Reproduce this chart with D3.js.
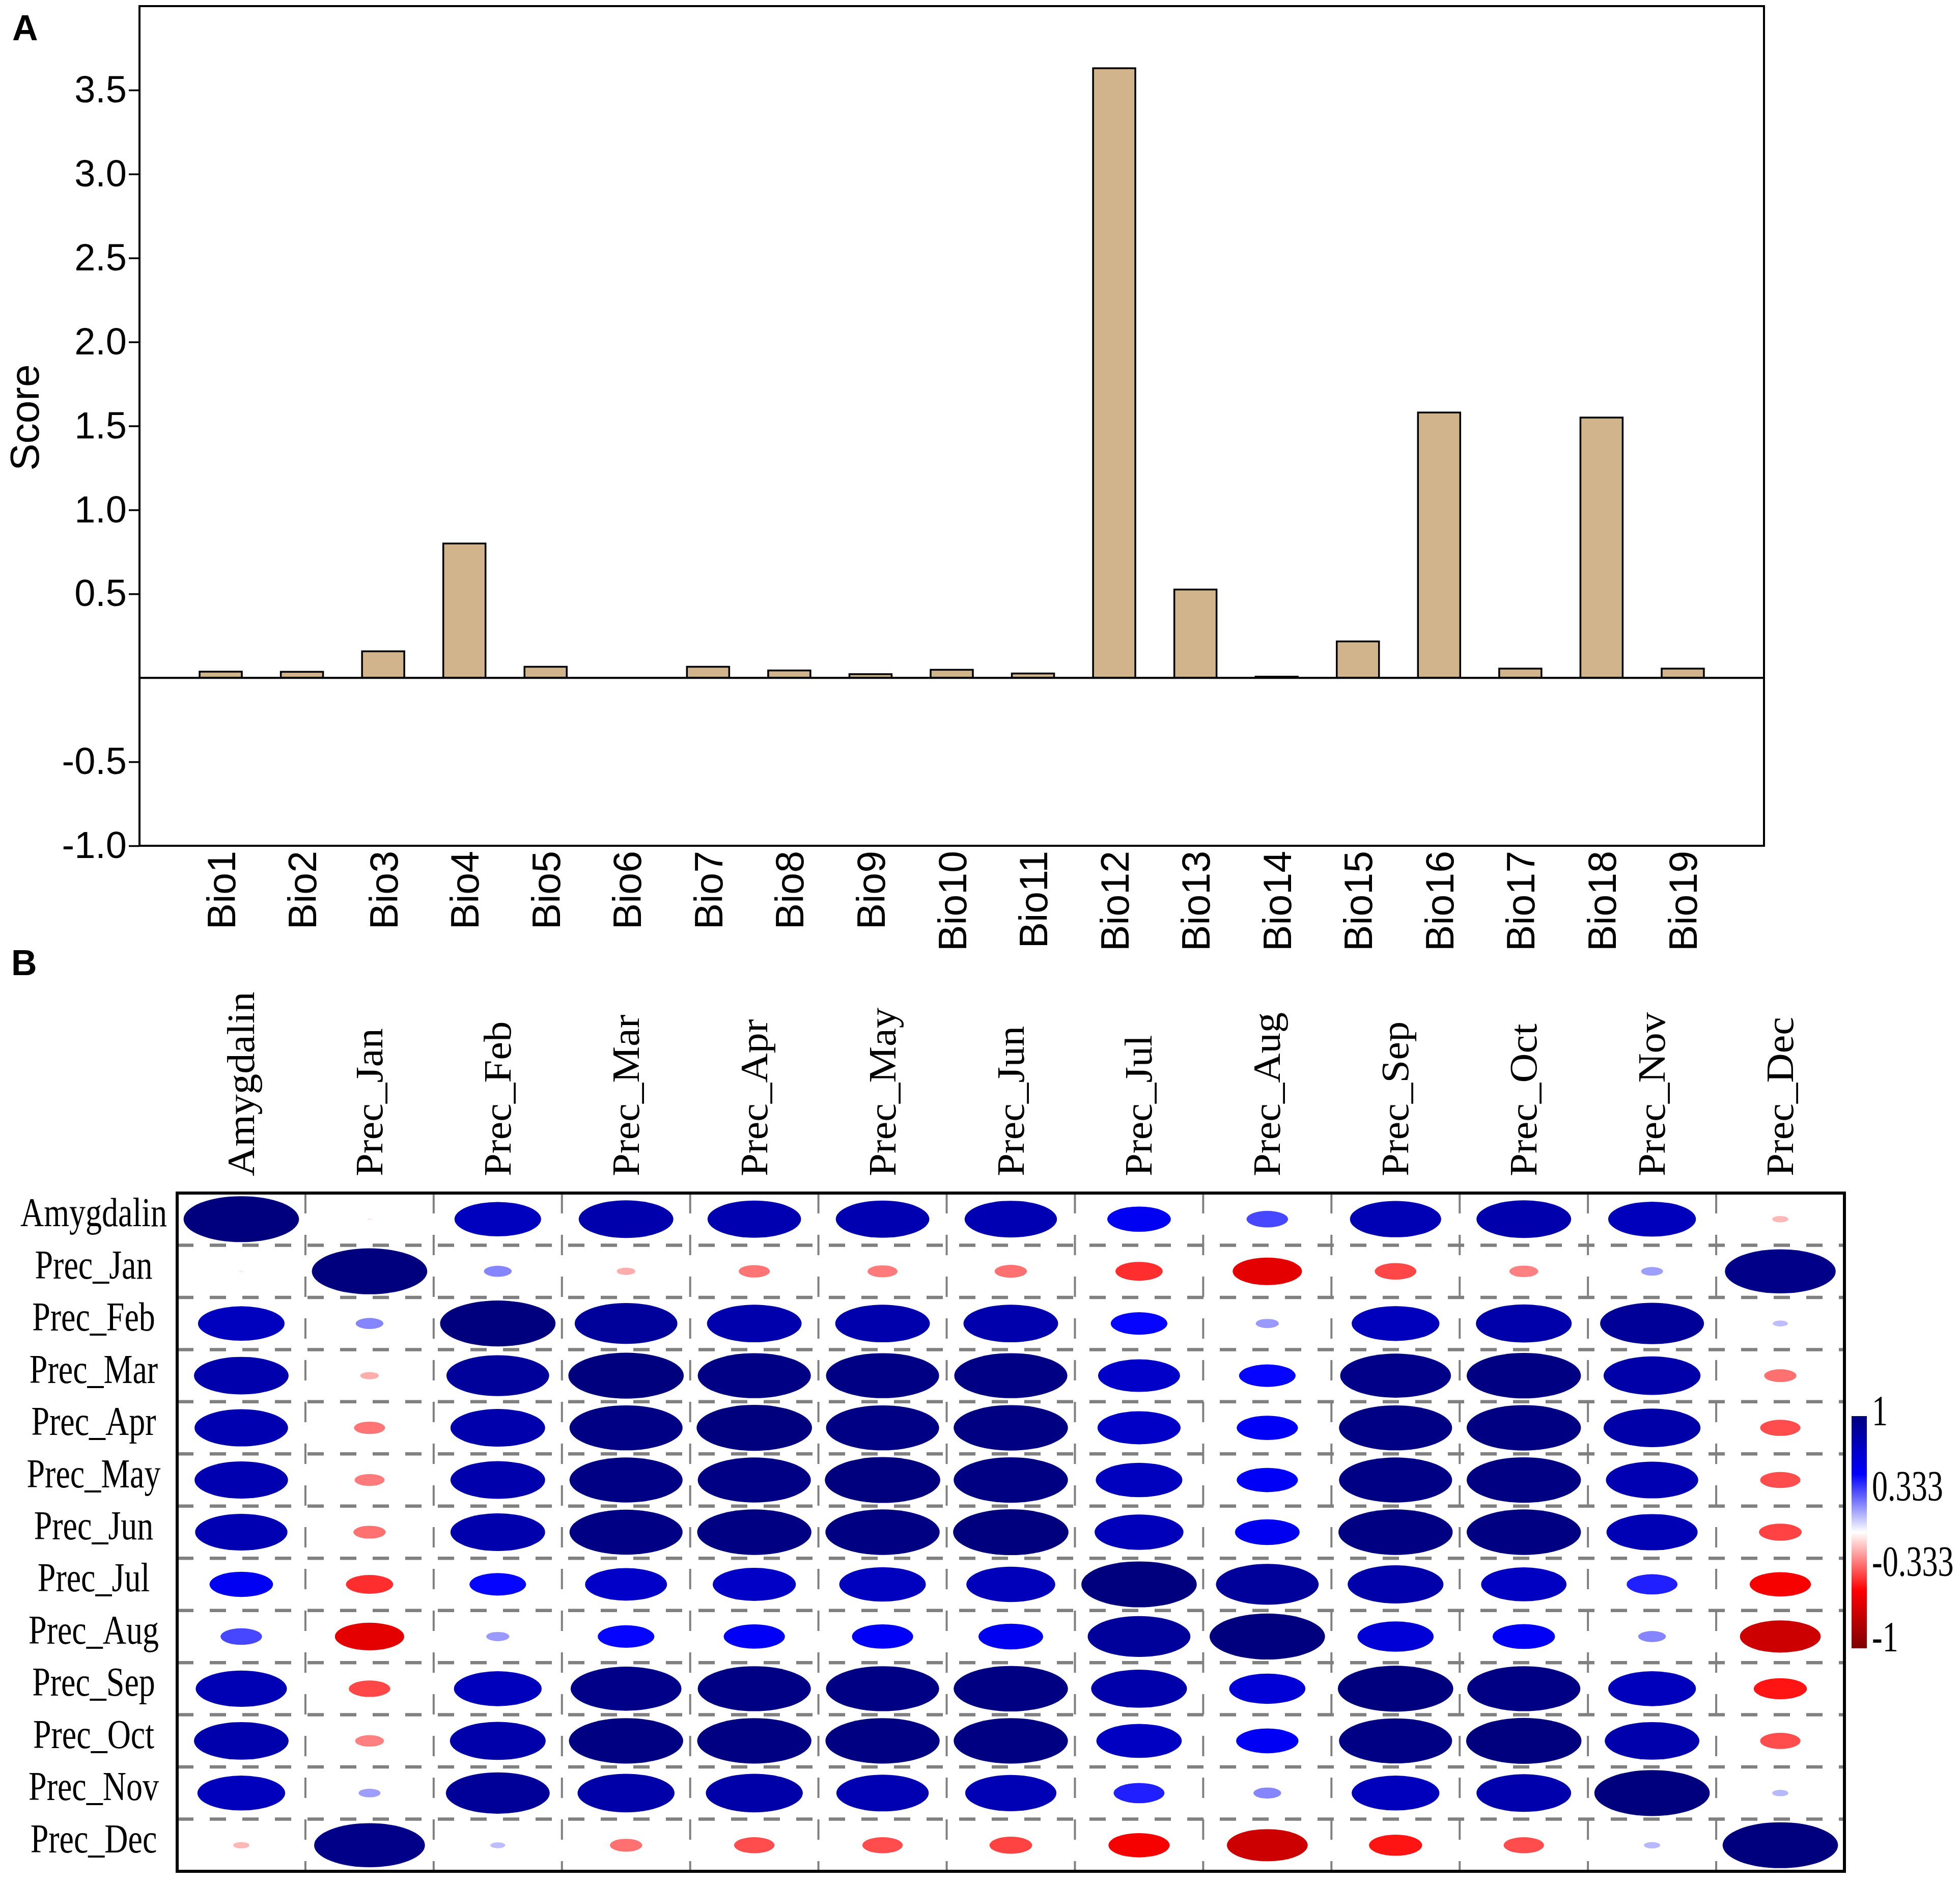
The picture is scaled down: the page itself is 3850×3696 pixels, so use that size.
<!DOCTYPE html>
<html lang="en">
<head>
  <meta charset="UTF-8" />
  <title>Bio scores and precipitation correlation</title>
  <script src="https://d3js.org/d3.v7.min.js"></script>
  <style>
    body { margin:0; padding:0; background:#fff; }
    svg { display:block; background:#fff; }
    .sans { font-family:"Liberation Sans", Arial, sans-serif; }
    .serif { font-family:"Liberation Serif", "Times New Roman", serif; }
  </style>
</head>
<body>
  <svg id="chart" width="3850" height="3696"></svg>

  <script>
  // ---- panel A data ----
  const bioLabels = ["Bio1","Bio2","Bio3","Bio4","Bio5","Bio6","Bio7","Bio8","Bio9","Bio10",
                     "Bio11","Bio12","Bio13","Bio14","Bio15","Bio16","Bio17","Bio18","Bio19"];
  const bioScores = [0.037, 0.036, 0.158, 0.80, 0.066, 0.0, 0.066, 0.044, 0.022, 0.048,
                     0.026, 3.63, 0.526, 0.007, 0.217, 1.58, 0.055, 1.55, 0.055];
  const scoreTicks = [-1.0, -0.5, 0.5, 1.0, 1.5, 2.0, 2.5, 3.0, 3.5];

  // ---- panel B data ----
  const varNames = ["Amygdalin","Prec_Jan","Prec_Feb","Prec_Mar","Prec_Apr","Prec_May","Prec_Jun",
                    "Prec_Jul","Prec_Aug","Prec_Sep","Prec_Oct","Prec_Nov","Prec_Dec"];
  const corrRows = [
    [ 1.00, -0.04,  0.75,  0.82,  0.81,  0.81,  0.80,  0.55,  0.36,  0.79,  0.82,  0.76, -0.14],
    [-0.04,  1.00,  0.24, -0.16, -0.27, -0.26, -0.28, -0.41, -0.60, -0.36, -0.25,  0.19,  0.96],
    [ 0.75,  0.24,  1.00,  0.89,  0.82,  0.82,  0.82,  0.49,  0.20,  0.76,  0.83,  0.90,  0.13],
    [ 0.82, -0.16,  0.89,  1.00,  0.98,  0.98,  0.98,  0.71,  0.49,  0.96,  0.99,  0.84, -0.28],
    [ 0.81, -0.27,  0.82,  0.98,  1.00,  0.98,  0.99,  0.72,  0.53,  0.98,  0.99,  0.84, -0.35],
    [ 0.81, -0.26,  0.82,  0.98,  0.98,  1.00,  0.99,  0.75,  0.53,  0.98,  0.99,  0.80, -0.35],
    [ 0.80, -0.28,  0.82,  0.98,  0.99,  0.99,  1.00,  0.77,  0.56,  0.99,  0.99,  0.79, -0.37],
    [ 0.55, -0.41,  0.49,  0.71,  0.72,  0.75,  0.77,  1.00,  0.89,  0.83,  0.74,  0.44, -0.53],
    [ 0.36, -0.60,  0.20,  0.49,  0.53,  0.53,  0.56,  0.89,  1.00,  0.66,  0.54,  0.24, -0.70],
    [ 0.79, -0.36,  0.76,  0.96,  0.98,  0.98,  0.99,  0.83,  0.66,  1.00,  0.98,  0.76, -0.46],
    [ 0.82, -0.25,  0.83,  0.99,  0.99,  0.99,  0.99,  0.74,  0.54,  0.98,  1.00,  0.82, -0.35],
    [ 0.76,  0.19,  0.90,  0.84,  0.84,  0.80,  0.79,  0.44,  0.24,  0.76,  0.82,  1.00,  0.14],
    [-0.14,  0.96,  0.13, -0.28, -0.35, -0.35, -0.37, -0.53, -0.70, -0.46, -0.35,  0.14,  1.00]
  ];
  const legendTicks = [1, 0.333, -0.333, -1];
  const paletteStops = [-1, -0.5, 0, 0.5, 1];
  const paletteColors = ["#7F0000", "#FF0000", "#FFFFFF", "#0000FF", "#00007F"];

  const svg = d3.select("#chart");
  // plain hyphen for negatives, like the original figure
  const hy = s => String(s).replace("\u2212", "-");

  // ================= panel A : bar chart =================
  (function drawBars() {
    const L = 274, R = 3465, T = 12, B = 1661;
    const x = d3.scaleLinear().domain([0, bioLabels.length + 1]).range([L, R]);
    const y = d3.scaleLinear().domain([-1, 4]).range([B, T]);
    const g = svg.append("g");

    // bars
    const bw = 0.52;
    g.selectAll("rect.bar").data(bioScores).enter().append("rect")
      .attr("class", "bar")
      .attr("x", (d, i) => x(i + 1 - bw / 2))
      .attr("width", x(bw) - x(0))
      .attr("y", d => y(Math.max(0, d)))
      .attr("height", d => Math.abs(y(d) - y(0)))
      .attr("fill", "#D2B48C")
      .attr("stroke", "#000")
      .attr("stroke-width", 3.5);

    // zero line
    g.append("line")
      .attr("x1", L).attr("x2", R)
      .attr("y1", y(0)).attr("y2", y(0))
      .attr("stroke", "#000").attr("stroke-width", 4);

    // frame
    g.append("rect")
      .attr("x", L).attr("y", T)
      .attr("width", R - L).attr("height", B - T)
      .attr("fill", "none").attr("stroke", "#000").attr("stroke-width", 4);

    // y axis
    const f1 = d3.format(".1f");
    const yAxis = d3.axisLeft(y).tickValues(scoreTicks)
      .tickFormat(d => hy(f1(d))).tickSize(21).tickPadding(4);
    const ya = g.append("g").attr("transform", `translate(${L},0)`).call(yAxis);
    ya.select(".domain").remove();
    ya.selectAll(".tick line").attr("stroke", "#000").attr("stroke-width", 3.5);
    ya.selectAll(".tick text")
      .attr("class", "sans").attr("font-size", 74).attr("fill", "#000");

    // x labels
    g.selectAll("text.bio").data(bioLabels).enter().append("text")
      .attr("class", "sans")
      .attr("font-size", 77)
      .attr("text-anchor", "end")
      .attr("transform", (d, i) => `translate(${x(i + 1) + 28},${B + 10}) rotate(-90)`)
      .text(d => d);

    // axis title
    g.append("text")
      .attr("class", "sans")
      .attr("font-size", 80)
      .attr("text-anchor", "middle")
      .attr("transform", `translate(76,820) rotate(-90)`)
      .text("Score");

    svg.append("text").attr("class", "sans").attr("font-weight", "bold")
      .attr("font-size", 70).attr("x", 24).attr("y", 79).text("A");
  })();

  // ================= panel B : correlation plot =================
  (function drawCorr() {
    const L = 348, R = 3623, T = 2343, B = 3675;
    const col = d3.scaleBand().domain(varNames).range([L, R]);
    const row = d3.scaleBand().domain(varNames).range([T, B]);
    const cw = col.bandwidth(), ch = row.bandwidth();
    const color = d3.scaleLinear().domain(paletteStops).range(paletteColors);
    const g = svg.append("g");

    const cells = [];
    corrRows.forEach((r, i) => r.forEach((v, j) => cells.push({ r: varNames[i], c: varNames[j], v })));

    // grid lines
    g.selectAll("line.hgrid").data(varNames.slice(1)).enter().append("line")
      .attr("x1", L).attr("x2", R)
      .attr("y1", d => row(d)).attr("y2", d => row(d))
      .attr("stroke", "#808080").attr("stroke-width", 6.5)
      .attr("stroke-dasharray", "32,32");
    g.selectAll("line.vgrid").data(varNames.slice(1)).enter().append("line")
      .attr("x1", d => col(d)).attr("x2", d => col(d))
      .attr("y1", T).attr("y2", B)
      .attr("stroke", "#808080").attr("stroke-width", 4)
      .attr("stroke-dasharray", "40,42");

    // ellipses
    g.selectAll("ellipse").data(cells).enter().append("ellipse")
      .attr("cx", d => col(d.c) + cw / 2)
      .attr("cy", d => row(d.r) + ch / 2)
      .attr("rx", d => 0.45 * cw * Math.abs(d.v))
      .attr("ry", d => 0.44 * ch * Math.abs(d.v))
      .attr("fill", d => color(d.v));

    // border
    g.append("rect")
      .attr("x", L).attr("y", T).attr("width", R - L).attr("height", B - T)
      .attr("fill", "none").attr("stroke", "#000").attr("stroke-width", 6);

    // row labels
    g.selectAll("text.rowlab").data(varNames).enter().append("text")
      .attr("class", "serif")
      .attr("font-size", 80)
      .attr("text-anchor", "middle")
      .attr("transform", d => `translate(184,${row(d) + ch / 2 + 14}) scale(0.8,1)`)
      .text(d => d);

    // column labels
    g.selectAll("text.collab").data(varNames).enter().append("text")
      .attr("class", "serif")
      .attr("font-size", 76)
      .attr("text-anchor", "start")
      .attr("transform", d => `translate(${col(d) + cw / 2 + 25},2310) rotate(-90) scale(1.06,1)`)
      .text(d => d);

    // colour bar
    const cbX = 3637, cbW = 30, cbT = 2781, cbB = 3237;
    const grad = svg.append("defs").append("linearGradient")
      .attr("id", "cbGrad").attr("x1", 0).attr("x2", 0).attr("y1", 0).attr("y2", 1);
    grad.selectAll("stop").data(paletteStops.slice().reverse()).enter().append("stop")
      .attr("offset", d => (1 - d) / 2)
      .attr("stop-color", d => color(d));
    g.append("rect")
      .attr("x", cbX).attr("y", cbT).attr("width", cbW).attr("height", cbB - cbT)
      .attr("fill", "url(#cbGrad)");

    const lab = d3.scaleLinear().domain([1, -1]).range([cbT + 18, cbB + 6]);
    g.selectAll("text.cblab").data(legendTicks).enter().append("text")
      .attr("class", "serif")
      .attr("font-size", 84)
      .attr("transform", d => `translate(3677,${lab(d)}) scale(0.74,1)`)
      .text(d => hy(d));

    svg.append("text").attr("class", "sans").attr("font-weight", "bold")
      .attr("font-size", 70).attr("x", 22).attr("y", 1915).text("B");
  })();
  </script>
</body>
</html>
